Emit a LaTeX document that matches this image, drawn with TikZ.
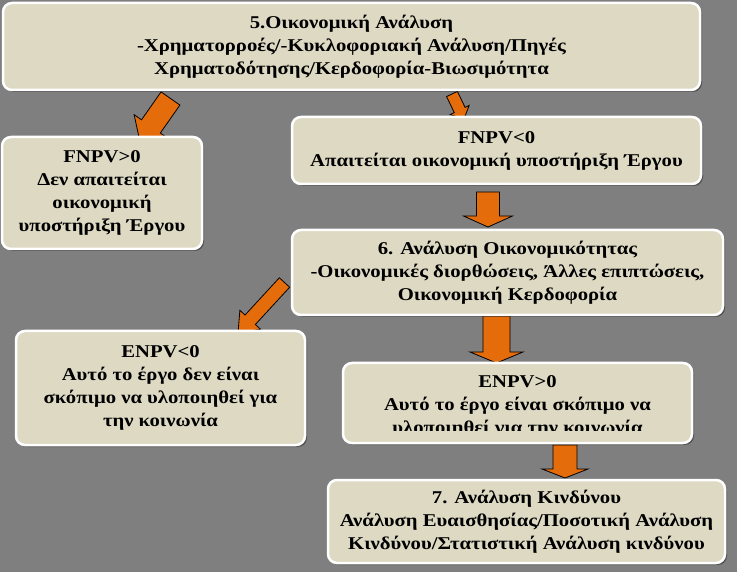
\documentclass[tikz,border=0pt]{standalone}
\usepackage{fontspec}
\setmainfont{Liberation Serif}[FakeStretch=1.15]
\usetikzlibrary{calc,shadows}

\definecolor{slate}{HTML}{7F7F7F}
\definecolor{paper}{HTML}{DDD9C3}
\definecolor{flame}{HTML}{E46C0A}

\pgfdeclarelayer{bg}
\pgfdeclarelayer{arr}
\pgfsetlayers{bg,arr,main}

% tail, tip, half shaft, half head, head length
\newcommand{\blockarrow}[5]{%
  \coordinate (hb) at ($(#2)!#5!(#1)$);
  \filldraw[arrowbody] ($(#1)!#3!90:(#2)$) -- ($(hb)!#3!90:(#2)$) -- ($(hb)!#4!90:(#2)$) -- (#2)
    -- ($(hb)!#4!-90:(#2)$) -- ($(hb)!#3!-90:(#2)$) -- ($(#1)!#3!-90:(#2)$) -- cycle;
}

\tikzset{
  box/.style={rounded corners=9pt, fill=paper, draw=white, line width=2.5pt,
    drop shadow={shadow xshift=2pt, shadow yshift=-2pt, fill=black, opacity=0.35},
    align=center, inner sep=0pt, font=\bfseries\fontsize{18}{23}\selectfont},
  boxtext/.style={align=center, inner sep=0pt, font=\bfseries\fontsize{18}{23}\selectfont},
  arrowbody/.style={fill=flame, draw=black, line width=0.8pt, line join=miter}
}

\begin{document}
\begin{tikzpicture}[x=1pt, y=-1pt]
  \useasboundingbox (0,0) rectangle (737,572);
  \begin{pgfonlayer}{bg}
    \fill[slate] (0,0) rectangle (737,572);
  \end{pgfonlayer}

  \node[box, minimum width=697pt, minimum height=87pt] (econ) at (351.5,46.5)
    {5.Οικονομική Ανάλυση\\-Χρηματορροές/-Κυκλοφοριακή Ανάλυση/Πηγές\\Χρηματοδότησης/Κερδοφορία-Βιωσιμότητα};
  \node[box, minimum width=200pt, minimum height=112pt] (fnpvpos) at (102,193)
    {FNPV>0\\Δεν απαιτείται\\οικονομική\\υποστήριξη Έργου};
  \node[box, minimum width=409pt, minimum height=67pt] (fnpvneg) at (496.5,150.5)
    {FNPV<0\\Απαιτείται οικονομική υποστήριξη Έργου};
  \node[box, minimum width=431pt, minimum height=85pt] (econom) at (507.5,272.5)
    {6. Ανάλυση Οικονομικότητας\\-Οικονομικές διορθώσεις, Άλλες επιπτώσεις,\\Οικονομική Κερδοφορία};
  \node[box, minimum width=289pt, minimum height=114pt] (enpvneg) at (160.5,388)
    {ENPV<0\\Αυτό το έργο δεν είναι\\σκόπιμο να υλοποιηθεί για\\την κοινωνία};
  \node[box, minimum width=349pt, minimum height=80pt] (enpvpos) at (517.5,403) {};
  \begin{scope}
    \clip (343,363) rectangle (692,430.5);
    \node[boxtext] (enpvtext) at (517.5,406.5)
      {ENPV>0\\Αυτό το έργο είναι σκόπιμο να\\υλοποιηθεί για την κοινωνία};
  \end{scope}
  \node[box, minimum width=397pt, minimum height=83pt] (risk) at (526.5,521.5)
    {7. Ανάλυση Κινδύνου\\Ανάλυση Ευαισθησίας/Ποσοτική Ανάλυση\\Κινδύνου/Στατιστική Ανάλυση κινδύνου};

  % block arrows, behind the boxes
  \coordinate (t1) at (170.5,98.5);  \coordinate (h1) at (140,142);
  \coordinate (t2) at (452,94);      \coordinate (h2) at (464,119);
  \coordinate (t3) at (488,192);     \coordinate (h3) at (488,227);
  \coordinate (t4) at (284.5,282.5); \coordinate (h4) at (238,333);
  \coordinate (t5) at (496.5,316);   \coordinate (h5) at (496.5,363);
  \coordinate (t6) at (565,445);     \coordinate (h6) at (565,478);
  \begin{pgfonlayer}{arr}
    \blockarrow{t1}{h1}{11.5pt}{20.5pt}{19pt}
    \blockarrow{t2}{h2}{6pt}{10.5pt}{10pt}
    \blockarrow{t3}{h3}{11.5pt}{24.5pt}{11pt}
    \blockarrow{t4}{h4}{7pt}{14pt}{18pt}
    \blockarrow{t5}{h5}{13.5pt}{26.5pt}{11pt}
    \blockarrow{t6}{h6}{12pt}{23pt}{9pt}
  \end{pgfonlayer}
\end{tikzpicture}
\end{document}
